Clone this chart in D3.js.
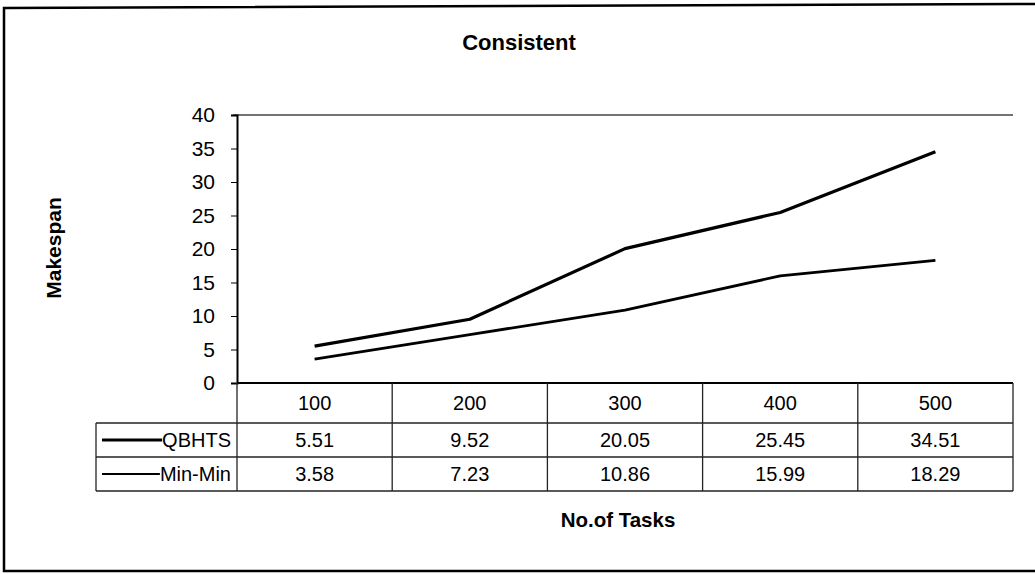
<!DOCTYPE html>
<html>
<head>
<meta charset="utf-8">
<script src="https://cdn.jsdelivr.net/npm/d3@7"></script>
<style>
  body { margin: 0; background: #fff; }
  text { font-family: "Liberation Sans", Arial, sans-serif; fill: #000; }
</style>
</head>
<body>
<svg id="chart" width="1035" height="574"></svg>
<script>
"use strict";

// data
const tasks = ["100", "200", "300", "400", "500"];
const qbhts = [5.51, 9.52, 20.05, 25.45, 34.51];
const minMin = [3.58, 7.23, 10.86, 15.99, 18.29];
const yTicks = [0, 5, 10, 15, 20, 25, 30, 35, 40];

const series = [
  {name: "QBHTS", values: qbhts, width: 3.2, key: 3.2},
  {name: "Min-Min", values: minMin, width: 2.8, key: 2}
];

const fontSize = 20;

const svg = d3.select("#chart");

// outer frame (left, top, bottom; the scan shows no right edge)
svg.append("path")
  .attr("d", "M1035,4 L4,8 L4,571 L1035,571")
  .attr("fill", "none")
  .attr("stroke", "#000")
  .attr("stroke-width", 2.5);

const plot = {left: 237, right: 1013, top: 115, bottom: 383};

let x = d3.scaleBand()
  .domain(tasks)
  .range([plot.left, plot.right]);

let y = d3.scaleLinear()
  .domain([0, 40])
  .range([plot.bottom, plot.top]);

// top border of plot area
svg.append("line")
  .attr("x1", plot.left - 4).attr("x2", plot.right)
  .attr("y1", plot.top).attr("y2", plot.top)
  .attr("stroke", "#444")
  .attr("stroke-width", 1.3);

// y axis
let yAxis = svg.append("g")
  .attr("transform", `translate(${plot.left},0)`)
  .call(d3.axisLeft(y).tickValues(yTicks).tickSize(6).tickPadding(16));
yAxis.select(".domain").attr("stroke-width", 2);
yAxis.selectAll("text")
  .attr("font-size", 21)
  .attr("font-family", "Liberation Sans, Arial, sans-serif");

// series lines
let line = d3.line()
  .x((d, i) => x(tasks[i]) + x.bandwidth() / 2)
  .y(d => y(d));

svg.append("g")
  .selectAll("path")
  .data(series)
  .enter().append("path")
  .attr("d", d => line(d.values))
  .attr("fill", "none")
  .attr("stroke", "#000")
  .attr("stroke-width", d => d.width)
  .attr("stroke-linejoin", "round");

// data table below the axis
const tableLeft = 96;
const rowTops = [383, 423, 457, 491];

let table = svg.append("g");

// x axis line (bottom of plot)
table.append("line")
  .attr("x1", plot.left).attr("x2", plot.right)
  .attr("y1", plot.bottom).attr("y2", plot.bottom)
  .attr("stroke", "#000")
  .attr("stroke-width", 2);

// horizontal rules
table.selectAll("line.h")
  .data(rowTops.slice(1))
  .enter().append("line")
  .attr("class", "h")
  .attr("x1", tableLeft).attr("x2", plot.right)
  .attr("y1", d => d).attr("y2", d => d)
  .attr("stroke", "#222")
  .attr("stroke-width", 1.3);

// vertical rules
let colEdges = tasks.map(t => x(t)).concat([plot.right]);
table.selectAll("line.v")
  .data(colEdges)
  .enter().append("line")
  .attr("class", "v")
  .attr("x1", d => d).attr("x2", d => d)
  .attr("y1", rowTops[0]).attr("y2", rowTops[3])
  .attr("stroke", "#222")
  .attr("stroke-width", 1.3);

table.append("line")
  .attr("x1", tableLeft).attr("x2", tableLeft)
  .attr("y1", rowTops[1]).attr("y2", rowTops[3])
  .attr("stroke", "#222")
  .attr("stroke-width", 1.3);

// category header row
table.selectAll("text.cat")
  .data(tasks)
  .enter().append("text")
  .attr("class", "cat")
  .attr("x", d => x(d) + x.bandwidth() / 2)
  .attr("y", (rowTops[0] + rowTops[1]) / 2 + 7)
  .attr("text-anchor", "middle")
  .attr("font-size", fontSize)
  .text(d => d);

// value rows with legend keys
series.forEach((s, r) => {
  let mid = (rowTops[r + 1] + rowTops[r + 2]) / 2;
  let label = table.append("text")
    .attr("x", 231)
    .attr("y", mid + 7)
    .attr("text-anchor", "end")
    .attr("font-size", fontSize)
    .text(s.name);
  let start = label.node().getBBox().x;
  table.append("line")
    .attr("x1", 102).attr("x2", start)
    .attr("y1", mid).attr("y2", mid)
    .attr("stroke", "#000")
    .attr("stroke-width", s.key);
  table.selectAll(null)
    .data(s.values)
    .enter().append("text")
    .attr("x", (d, i) => x(tasks[i]) + x.bandwidth() / 2)
    .attr("y", mid + 7)
    .attr("text-anchor", "middle")
    .attr("font-size", fontSize)
    .text(d => d.toFixed(2));
});

// titles
svg.append("text")
  .attr("x", 519).attr("y", 50)
  .attr("text-anchor", "middle")
  .attr("font-size", 22)
  .attr("font-weight", "bold")
  .text("Consistent");

svg.append("text")
  .attr("transform", "translate(61,248) rotate(-90)")
  .attr("text-anchor", "middle")
  .attr("font-size", 21)
  .attr("font-weight", "bold")
  .text("Makespan");

svg.append("text")
  .attr("x", 618).attr("y", 527)
  .attr("text-anchor", "middle")
  .attr("font-size", 20.5)
  .attr("font-weight", "bold")
  .text("No.of Tasks");
</script>
</body>
</html>
